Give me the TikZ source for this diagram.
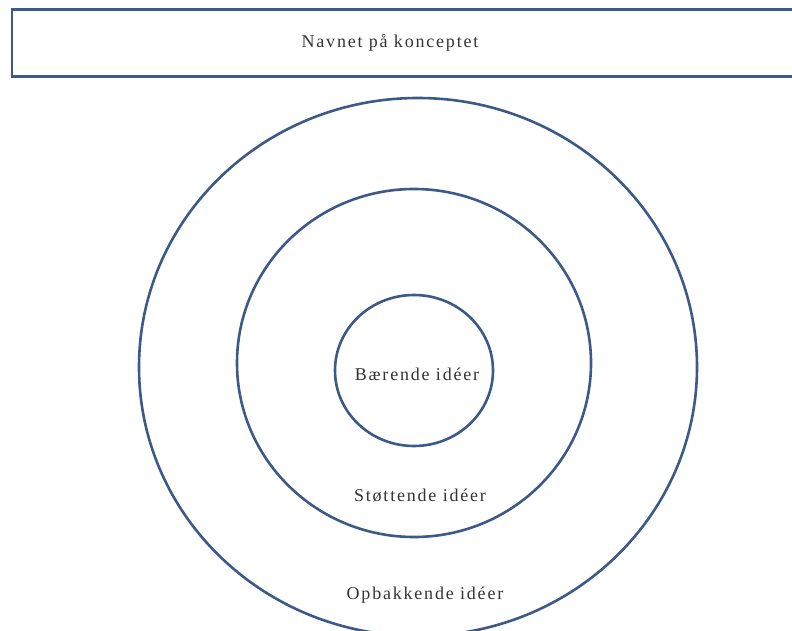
\documentclass[tikz,border=0pt]{standalone}
\usepackage{fontspec}
\setmainfont{Liberation Serif}[LetterSpace=10]
\usepackage{tikz}
\usetikzlibrary{shapes.geometric}
\usetikzlibrary{positioning}
\definecolor{ringblue}{HTML}{3B5A8A}
\tikzstyle{ring} = [draw=ringblue, line width=2.6pt, ellipse, inner sep=0pt]
\tikzstyle{title} = [draw=ringblue, line width=2.6pt, rectangle, inner sep=0pt]
\tikzstyle{label} = [text=black!80, font=\fontsize{18}{21}\selectfont]

\begin{document}
\begin{tikzpicture}[x=1pt, y=-1pt]
    \useasboundingbox (0,0) rectangle (792,631);
    \clip (0,0) rectangle (792,631);

    \node[title, minimum width=800pt, minimum height=67pt, anchor=north west] at (10.5,8.5) (titlebox) {};
    \node[label] at (390,42.5) (titletext) {Navnet på konceptet};

    \node[ring, minimum width=558pt, minimum height=538pt] at (418,367) (outer) {};
    \node[ring, minimum width=354pt, minimum height=348pt] at (414,363) (middle) {};
    \node[ring, minimum width=158pt, minimum height=151pt] at (414,370.5) (inner) {};

    \node[label] at (417,374.5) (innertext) {Bærende idéer};
    \node[label] at (420,495.5) (middletext) {Støttende idéer};
    \node[label] at (425,595.5) (outertext) {Opbakkende idéer};
\end{tikzpicture}
\end{document}
